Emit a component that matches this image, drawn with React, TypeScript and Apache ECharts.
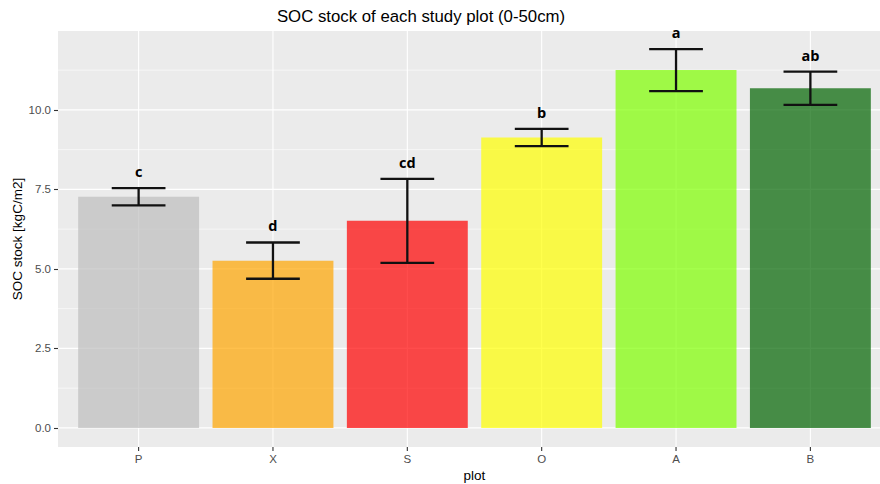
import React, { useEffect, useRef } from "react";
import * as echarts from "echarts";

// Study plots and their mean SOC stock (0-50 cm) with standard deviation
const plots = ["P", "X", "S", "O", "A", "B"];
const socMean = [7.27, 5.26, 6.51, 9.13, 11.25, 10.68];
const socSd = [0.27, 0.57, 1.32, 0.27, 0.66, 0.52];
const groupLetters = ["c", "d", "cd", "b", "a", "ab"];
const barColors = ["#BEBEBE", "#FFA500", "#FF0000", "#FFFF00", "#7FFF00", "#006400"];

// Y axis breaks
const yTicks = [0, 2.5, 5, 7.5, 10];
const yMinorBreaks = [1.25, 3.75, 6.25, 8.75, 11.25];

const SANS = "'Liberation Sans', Arial, sans-serif";

export default function App() {
  const ref = useRef<HTMLDivElement>(null);

  useEffect(() => {
    if (!ref.current) return;
    const chart = echarts.init(ref.current, null, { renderer: "svg" });

    const barData = plots.map((_, i) => [i, socMean[i], socSd[i]]);

    const option: any = {
      animation: false,
      backgroundColor: "#FFFFFF",
      grid: {
        left: 58,
        top: 31,
        width: 833,
        height: 416,
        show: true,
        backgroundColor: "#EBEBEB",
        borderWidth: 0,
        containLabel: false,
        outerBoundsMode: "none",
      },
      graphic: [
        {
          type: "text",
          x: 421,
          y: 16.5,
          style: {
            text: "SOC stock of each study plot (0-50cm)",
            font: `16.8px ${SANS}`,
            fill: "#000000",
            textAlign: "center",
            textVerticalAlign: "middle",
          },
        },
      ],
      xAxis: {
        type: "value",
        min: -0.6,
        max: plots.length - 0.4,
        name: "plot",
        nameLocation: "middle",
        nameGap: 21,
        nameMoveOverlap: false,
        nameTextStyle: { fontFamily: SANS, fontSize: 13.5, color: "#000000" },
        axisLine: { show: false, onZero: false },
        axisTick: { show: false },
        axisLabel: { show: false },
        splitLine: { show: false },
      },
      yAxis: {
        type: "value",
        min: -0.6,
        max: 12.48,
        name: "SOC stock [kgC/m2]",
        nameLocation: "middle",
        nameRotate: 90,
        nameGap: 34,
        nameMoveOverlap: false,
        nameTextStyle: { fontFamily: SANS, fontSize: 13.5, color: "#000000" },
        axisLine: { show: false, onZero: false },
        axisTick: {
          show: true,
          length: 4,
          customValues: yTicks,
          lineStyle: { color: "#333333", width: 1.1 },
        },
        axisLabel: {
          show: true,
          customValues: yTicks,
          margin: 7,
          fontFamily: SANS,
          fontSize: 11.5,
          color: "#4D4D4D",
          formatter: (v: number) => v.toFixed(1),
        },
        splitLine: { show: false },
      },
      series: [
        {
          // panel grid lines, x ticks and category labels
          type: "custom",
          z: 1,
          silent: true,
          clip: false,
          data: [[0]],
          renderItem: (params: any, api: any) => {
            const cs = params.coordSys;
            const children: any[] = [];
            yMinorBreaks.forEach((v) => {
              const y = api.coord([0, v])[1];
              children.push({
                type: "line",
                shape: { x1: cs.x, y1: y, x2: cs.x + cs.width, y2: y },
                style: { stroke: "#FFFFFF", lineWidth: 0.6 },
              });
            });
            yTicks.forEach((v) => {
              const y = api.coord([0, v])[1];
              children.push({
                type: "line",
                shape: { x1: cs.x, y1: y, x2: cs.x + cs.width, y2: y },
                style: { stroke: "#FFFFFF", lineWidth: 1.1 },
              });
            });
            const bottom = cs.y + cs.height;
            plots.forEach((name, i) => {
              const x = api.coord([i, 0])[0];
              children.push({
                type: "line",
                shape: { x1: x, y1: cs.y, x2: x, y2: bottom },
                style: { stroke: "#FFFFFF", lineWidth: 1.1 },
              });
              children.push({
                type: "line",
                shape: { x1: x, y1: bottom, x2: x, y2: bottom + 4 },
                style: { stroke: "#333333", lineWidth: 1.1 },
              });
              children.push({
                type: "text",
                x,
                y: bottom + 6,
                style: {
                  text: name,
                  font: `11.5px ${SANS}`,
                  fill: "#4D4D4D",
                  textAlign: "center",
                  textVerticalAlign: "top",
                },
              });
            });
            return { type: "group", children };
          },
        },
        {
          // bars
          type: "custom",
          z: 2,
          clip: false,
          data: barData,
          renderItem: (params: any, api: any) => {
            const i = api.value(0);
            const m = api.value(1);
            const p0 = api.coord([i - 0.45, m]);
            const p1 = api.coord([i + 0.45, 0]);
            return {
              type: "rect",
              shape: { x: p0[0], y: p0[1], width: p1[0] - p0[0], height: p1[1] - p0[1] },
              style: { fill: barColors[params.dataIndex], opacity: 0.7 },
            };
          },
        },
        {
          // error bars and significance letters
          type: "custom",
          z: 3,
          clip: false,
          data: barData,
          renderItem: (params: any, api: any) => {
            const i = api.value(0);
            const m = api.value(1);
            const s = api.value(2);
            const top = api.coord([i, m + s]);
            const bot = api.coord([i, m - s]);
            const capL = api.coord([i - 0.2, m])[0];
            const capR = api.coord([i + 0.2, m])[0];
            const stroke = { stroke: "#111111", lineWidth: 2.3 };
            return {
              type: "group",
              children: [
                { type: "line", shape: { x1: top[0], y1: top[1], x2: bot[0], y2: bot[1] }, style: stroke },
                { type: "line", shape: { x1: capL, y1: top[1], x2: capR, y2: top[1] }, style: stroke },
                { type: "line", shape: { x1: capL, y1: bot[1], x2: capR, y2: bot[1] }, style: stroke },
                {
                  type: "text",
                  x: top[0],
                  y: top[1] - 9,
                  style: {
                    text: groupLetters[params.dataIndex],
                    font: `bold 14.5px 'Open Sans', 'Noto Sans', sans-serif`,
                    fill: "#000000",
                    textAlign: "center",
                    textVerticalAlign: "bottom",
                  },
                },
              ],
            };
          },
        },
      ],
    };

    chart.setOption(option);
    return () => chart.dispose();
  }, []);

  return (
    <div
      ref={ref}
      style={{ position: "absolute", left: 0, top: 0, width: 880, height: 484 }}
    />
  );
}
